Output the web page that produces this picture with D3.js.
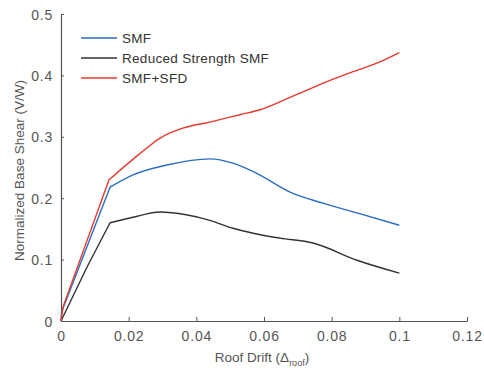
<!DOCTYPE html>
<html>
<head>
<meta charset="utf-8">
<script src="https://cdn.jsdelivr.net/npm/d3@7"></script>
<style>
  html, body { margin: 0; padding: 0; background: #fff; }
  svg { display: block; }
  text { font-family: "Liberation Sans", Arial, Helvetica, sans-serif; }
</style>
</head>
<body>
<svg id="chart" width="484" height="381"></svg>
<script>
// Pushover curves: normalized base shear vs. roof drift
const smfDrift = [0, 0.0002, 0.0145, 0.0213, 0.0313, 0.044, 0.0508, 0.058, 0.0677, 0.0774, 0.0875, 0.1];
const smfShear = [0, 0.015, 0.218, 0.238, 0.254, 0.264, 0.257, 0.240, 0.210, 0.192, 0.176, 0.156];

const reducedDrift = [0, 0.0077, 0.0145, 0.0213, 0.0293, 0.037, 0.044, 0.0508, 0.0568, 0.0647, 0.0745, 0.0875, 0.1];
const reducedShear = [0, 0.088, 0.160, 0.169, 0.1775, 0.173, 0.164, 0.151, 0.143, 0.135, 0.127, 0.099, 0.078];

const sfdDrift = [0, 0.0006, 0.0142, 0.0234, 0.0293, 0.036, 0.044, 0.0529, 0.0588, 0.0647, 0.0727, 0.0795, 0.0863, 0.0943, 0.1];
const sfdShear = [0, 0.023, 0.230, 0.273, 0.298, 0.314, 0.324, 0.336, 0.344, 0.357, 0.376, 0.392, 0.406, 0.422, 0.437];

// index of the yield point in each series (elastic branch drawn straight up to it)
const yieldIndex = [2, 2, 2];

const seriesNames = ["SMF", "Reduced Strength SMF", "SMF+SFD"];
const seriesColors = ["#2a6cc4", "#333333", "#e8392c"];

const xTicks = [0, 0.02, 0.04, 0.06, 0.08, 0.1, 0.12];
const xTickLabels = ["0", "0.02", "0.04", "0.06", "0.08", "0.1", "0.12"];
const yTicks = [0, 0.1, 0.2, 0.3, 0.4, 0.5];
const yTickLabels = ["0", "0.1", "0.2", "0.3", "0.4", "0.5"];

const svg = d3.select("#chart");
const margin = { left: 61, right: 17, top: 14, bottom: 60 };
const W = 484, H = 381;

const x = d3.scaleLinear().domain([0, 0.12]).range([margin.left, W - margin.right]);
const y = d3.scaleLinear().domain([0, 0.5]).range([H - margin.bottom, margin.top]);

const axisColor = "#555";
const labelColor = "#555";

// x axis (ticks point inward)
const xAxis = d3.axisBottom(x).tickValues(xTicks)
  .tickFormat((d, i) => xTickLabels[i])
  .tickSizeInner(-4).tickSizeOuter(0).tickPadding(10);
const gx = svg.append("g").attr("transform", `translate(0,${y(0)})`).call(xAxis);

// y axis (ticks point inward)
const yAxis = d3.axisLeft(y).tickValues(yTicks)
  .tickFormat((d, i) => yTickLabels[i])
  .tickSizeInner(-3).tickSizeOuter(0).tickPadding(8);
const gy = svg.append("g").attr("transform", `translate(${x(0)},0)`).call(yAxis);

[gx, gy].forEach(g => {
  g.select(".domain").attr("stroke", axisColor).attr("stroke-width", 1.2);
  g.selectAll(".tick line").attr("stroke", axisColor).attr("stroke-width", 1);
  g.selectAll(".tick text")
    .attr("fill", labelColor)
    .style("font-size", "14px")
    .style("letter-spacing", "0.8px")
    .style("font-family", "'Liberation Sans', Arial, sans-serif");
});
gy.selectAll(".tick text").attr("dy", "0.36em");

// curves: straight elastic branch, smooth post-yield branch
const drifts = [smfDrift, reducedDrift, sfdDrift];
const shears = [smfShear, reducedShear, sfdShear];
const straight = d3.line().x(d => x(d[0])).y(d => y(d[1])).curve(d3.curveLinear);
const smooth = d3.line().x(d => x(d[0])).y(d => y(d[1])).curve(d3.curveMonotoneX);

drifts.forEach((dr, k) => {
  const pts = dr.map((v, i) => [v, shears[k][i]]);
  const yi = yieldIndex[k];
  const d = straight(pts.slice(0, yi + 1)) + smooth(pts.slice(yi)).replace(/^M/, "L");
  svg.append("path")
    .attr("fill", "none")
    .attr("stroke", seriesColors[k])
    .attr("stroke-width", 1.4)
    .attr("stroke-linejoin", "round")
    .attr("d", d);
});

// legend
const legend = svg.append("g");
seriesNames.forEach((name, i) => {
  const ly = 38 + i * 20;
  legend.append("line")
    .attr("x1", 81).attr("x2", 117)
    .attr("y1", ly).attr("y2", ly)
    .attr("stroke", seriesColors[i]).attr("stroke-width", 1.4);
  legend.append("text")
    .attr("x", 122).attr("y", ly)
    .attr("dy", "0.36em")
    .attr("fill", "#333")
    .style("font-size", "13.5px")
    .style("letter-spacing", "0.3px")
    .text(name);
});

// axis titles
svg.append("text")
  .attr("transform", `translate(24,${(y(0) + y(0.5)) / 2 + 3}) rotate(-90)`)
  .attr("text-anchor", "middle")
  .attr("fill", labelColor)
  .style("font-size", "13.5px")
  .text("Normalized Base Shear (V/W)");

const xt = svg.append("text")
  .attr("x", 262).attr("y", 362)
  .attr("text-anchor", "middle")
  .attr("fill", labelColor)
  .style("font-size", "13.5px");
xt.append("tspan").text("Roof Drift (Δ");
xt.append("tspan").attr("dy", 4).style("font-size", "9px").text("roof");
xt.append("tspan").attr("dy", -4).text(")");
</script>
</body>
</html>
